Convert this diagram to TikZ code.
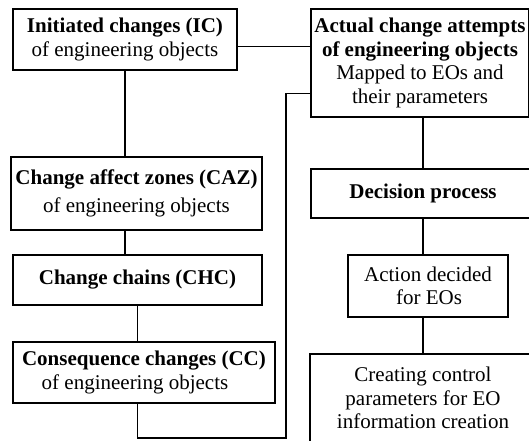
\documentclass[tikz,border=0pt]{standalone}
\usepackage{fontspec}
\setmainfont{Liberation Serif}
\begin{document}
\begin{tikzpicture}[x=1pt,y=-1pt,
  box/.style={draw=black, line width=2pt, rectangle, inner sep=0pt,
    align=center, font=\fontsize{21}{23.4}\selectfont},
  link/.style={draw=black, line width=1.8pt}]
\useasboundingbox (0,0) rectangle (529,440);
\begin{scope}
\clip (0,0) rectangle (529,440);

% left column
\node[box, minimum width=224pt, minimum height=61pt] (IC) at (125,39.5)
  {\textbf{Initiated changes (IC)}\\of engineering objects};
\node[box, minimum width=251pt, minimum height=73pt] (CAZ) at (136.5,193.5)
  {\textbf{Change affect zones (CAZ)}\\[5pt]of engineering objects};
\node[box, minimum width=249pt, minimum height=50pt] (CHC) at (137.5,280)
  {\textbf{Change chains (CHC)}};
\node[box, minimum width=262pt, minimum height=61pt] (CC) at (144,372.5)
  {\textbf{Consequence changes (CC)}\\of engineering objects\hspace*{18pt}};

% right column
\node[box, minimum width=218pt, minimum height=108pt] (ACA) at (420,63)
  {\textbf{Actual change attempts}\\\textbf{of engineering objects}\\Mapped to EOs and\\their parameters};
\node[box, minimum width=224pt, minimum height=49pt] (DP) at (423,193.5)
  {\textbf{Decision process}};
\node[box, minimum width=160pt, minimum height=62pt] (AD) at (428,286)
  {Action decided\\\hspace*{2pt}for EOs};
\node[box, minimum width=226pt, minimum height=88pt] (CR) at (423,398)
  {Creating control\\parameters for EO\\information creation};

% connectors
\coordinate (loop) at (286,438);
\draw[link] ([yshift=-7pt]IC.east) -- ([yshift=-7pt]IC.east -| ACA.west);
\draw[link] (IC.south) -- (IC.south |- CAZ.north);
\draw[link] (IC.south |- CAZ.south) -- (IC.south |- CHC.north);
\draw[link] (CHC.south) -- (CHC.south |- CC.north);
\draw[link] (CHC.south |- CC.south) -- (CHC.south |- loop) -- (loop)
  |- ([yshift=-30.5pt]ACA.west);
\draw[link] (DP.north |- ACA.south) -- (DP.north);
\draw[link] (DP.south) -- (DP.south |- AD.north);
\draw[link] (DP.south |- AD.south) -- (DP.south |- CR.north);
\end{scope}
\end{tikzpicture}
\end{document}
